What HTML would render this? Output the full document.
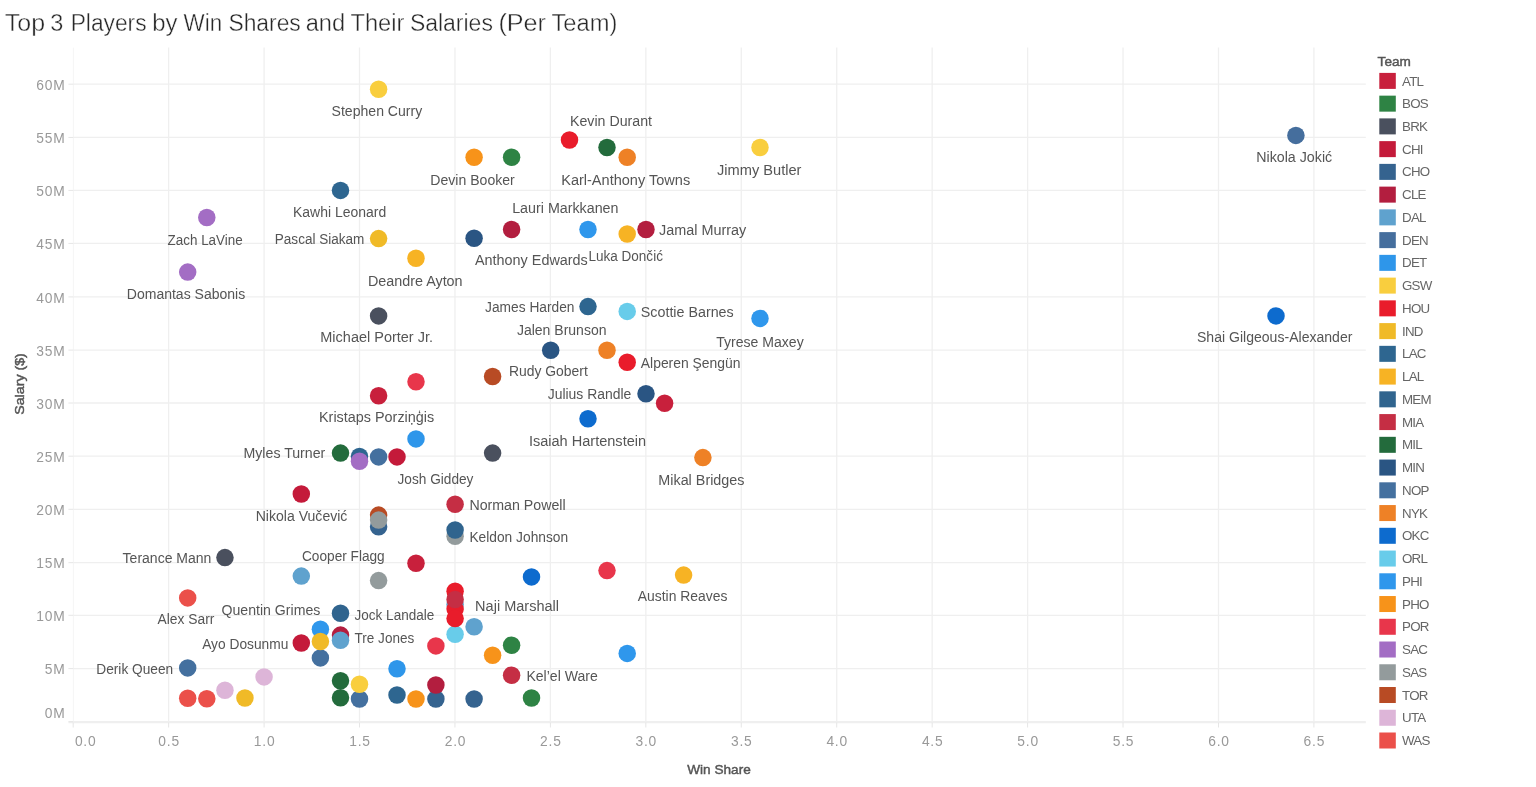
<!DOCTYPE html>
<html><head><meta charset="utf-8"><title>Top 3 Players by Win Shares and Their Salaries (Per Team)</title>
<style>
html,body{margin:0;padding:0;background:#fff;}
body{width:1536px;height:787px;overflow:hidden;position:relative;font-family:"Liberation Sans",sans-serif;}
svg{position:absolute;left:0;top:0;will-change:transform;}
text{font-family:"Liberation Sans",sans-serif;}
.ttl{font-size:23.3px;fill:#282828;stroke:#fff;stroke-width:0.38px;}
.ml{font-size:14.7px;fill:#555;}
.ax{font-size:13.8px;fill:#999;letter-spacing:0.8px;}
.axt{font-size:13.6px;fill:#555;stroke:#555;stroke-width:0.45px;}
.lg{font-size:13.33px;fill:#666;letter-spacing:-0.75px;}
.lgt{font-size:13.6px;fill:#555;stroke:#555;stroke-width:0.45px;}
</style></head><body>
<svg width="1536" height="787" viewBox="0 0 1536 787">
<text class="ttl" x="4.8" y="30.9" textLength="40.2" lengthAdjust="spacingAndGlyphs">Top</text>
<text class="ttl" x="50.2" y="30.9" textLength="13.1" lengthAdjust="spacingAndGlyphs">3</text>
<text class="ttl" x="70.7" y="30.9" textLength="75.9" lengthAdjust="spacingAndGlyphs">Players</text>
<text class="ttl" x="152.3" y="30.9" textLength="25.2" lengthAdjust="spacingAndGlyphs">by</text>
<text class="ttl" x="183.6" y="30.9" textLength="38.5" lengthAdjust="spacingAndGlyphs">Win</text>
<text class="ttl" x="228.4" y="30.9" textLength="72.4" lengthAdjust="spacingAndGlyphs">Shares</text>
<text class="ttl" x="305.7" y="30.9" textLength="39.4" lengthAdjust="spacingAndGlyphs">and</text>
<text class="ttl" x="350.5" y="30.9" textLength="53.9" lengthAdjust="spacingAndGlyphs">Their</text>
<text class="ttl" x="409.9" y="30.9" textLength="83.0" lengthAdjust="spacingAndGlyphs">Salaries</text>
<text class="ttl" x="498.4" y="30.9" textLength="47.6" lengthAdjust="spacingAndGlyphs">(Per</text>
<text class="ttl" x="551.5" y="30.9" textLength="65.8" lengthAdjust="spacingAndGlyphs">Team)</text>
<g stroke="#efefef" stroke-width="1.3" fill="none">
<line x1="73.4" x2="1365.8" y1="84.2" y2="84.2"/>
<line x1="73.4" x2="1365.8" y1="137.45" y2="137.45"/>
<line x1="73.4" x2="1365.8" y1="190.4" y2="190.4"/>
<line x1="73.4" x2="1365.8" y1="243.4" y2="243.4"/>
<line x1="73.4" x2="1365.8" y1="296.9" y2="296.9"/>
<line x1="73.4" x2="1365.8" y1="350.1" y2="350.1"/>
<line x1="73.4" x2="1365.8" y1="403.0" y2="403.0"/>
<line x1="73.4" x2="1365.8" y1="456.2" y2="456.2"/>
<line x1="73.4" x2="1365.8" y1="509.3" y2="509.3"/>
<line x1="73.4" x2="1365.8" y1="562.7" y2="562.7"/>
<line x1="73.4" x2="1365.8" y1="615.3" y2="615.3"/>
<line x1="73.4" x2="1365.8" y1="668.6" y2="668.6"/>
<line x1="73.4" x2="1365.8" y1="721.6" y2="721.6"/>
<line x1="168.64" x2="168.64" y1="47.6" y2="722.5"/>
<line x1="264.08" x2="264.08" y1="47.6" y2="722.5"/>
<line x1="359.52" x2="359.52" y1="47.6" y2="722.5"/>
<line x1="454.96" x2="454.96" y1="47.6" y2="722.5"/>
<line x1="550.40" x2="550.40" y1="47.6" y2="722.5"/>
<line x1="645.84" x2="645.84" y1="47.6" y2="722.5"/>
<line x1="741.28" x2="741.28" y1="47.6" y2="722.5"/>
<line x1="836.72" x2="836.72" y1="47.6" y2="722.5"/>
<line x1="932.16" x2="932.16" y1="47.6" y2="722.5"/>
<line x1="1027.60" x2="1027.60" y1="47.6" y2="722.5"/>
<line x1="1123.04" x2="1123.04" y1="47.6" y2="722.5"/>
<line x1="1218.48" x2="1218.48" y1="47.6" y2="722.5"/>
<line x1="1313.92" x2="1313.92" y1="47.6" y2="722.5"/>
</g>
<line x1="68.4" x2="1365.8" y1="722.7" y2="722.7" stroke="#efefef" stroke-width="1.2"/>
<line x1="73.4" x2="73.4" y1="47.6" y2="722.5" stroke="#f5f5f5" stroke-width="1"/>
<g stroke="#e6e6e6" stroke-width="1">
<line x1="68.4" x2="73.4" y1="84.2" y2="84.2"/>
<line x1="68.4" x2="73.4" y1="137.45" y2="137.45"/>
<line x1="68.4" x2="73.4" y1="190.4" y2="190.4"/>
<line x1="68.4" x2="73.4" y1="243.4" y2="243.4"/>
<line x1="68.4" x2="73.4" y1="296.9" y2="296.9"/>
<line x1="68.4" x2="73.4" y1="350.1" y2="350.1"/>
<line x1="68.4" x2="73.4" y1="403.0" y2="403.0"/>
<line x1="68.4" x2="73.4" y1="456.2" y2="456.2"/>
<line x1="68.4" x2="73.4" y1="509.3" y2="509.3"/>
<line x1="68.4" x2="73.4" y1="562.7" y2="562.7"/>
<line x1="68.4" x2="73.4" y1="615.3" y2="615.3"/>
<line x1="68.4" x2="73.4" y1="668.6" y2="668.6"/>
<line x1="68.4" x2="73.4" y1="721.6" y2="721.6"/>
<line x1="73.20" x2="73.20" y1="722.5" y2="727.5"/>
<line x1="168.64" x2="168.64" y1="722.5" y2="727.5"/>
<line x1="264.08" x2="264.08" y1="722.5" y2="727.5"/>
<line x1="359.52" x2="359.52" y1="722.5" y2="727.5"/>
<line x1="454.96" x2="454.96" y1="722.5" y2="727.5"/>
<line x1="550.40" x2="550.40" y1="722.5" y2="727.5"/>
<line x1="645.84" x2="645.84" y1="722.5" y2="727.5"/>
<line x1="741.28" x2="741.28" y1="722.5" y2="727.5"/>
<line x1="836.72" x2="836.72" y1="722.5" y2="727.5"/>
<line x1="932.16" x2="932.16" y1="722.5" y2="727.5"/>
<line x1="1027.60" x2="1027.60" y1="722.5" y2="727.5"/>
<line x1="1123.04" x2="1123.04" y1="722.5" y2="727.5"/>
<line x1="1218.48" x2="1218.48" y1="722.5" y2="727.5"/>
<line x1="1313.92" x2="1313.92" y1="722.5" y2="727.5"/>
</g>
<text class="ax" x="65.6" y="89.9" text-anchor="end">60M</text>
<text class="ax" x="65.6" y="143.1" text-anchor="end">55M</text>
<text class="ax" x="65.6" y="196.1" text-anchor="end">50M</text>
<text class="ax" x="65.6" y="249.1" text-anchor="end">45M</text>
<text class="ax" x="65.6" y="302.6" text-anchor="end">40M</text>
<text class="ax" x="65.6" y="355.8" text-anchor="end">35M</text>
<text class="ax" x="65.6" y="408.7" text-anchor="end">30M</text>
<text class="ax" x="65.6" y="461.9" text-anchor="end">25M</text>
<text class="ax" x="65.6" y="515.0" text-anchor="end">20M</text>
<text class="ax" x="65.6" y="568.4" text-anchor="end">15M</text>
<text class="ax" x="65.6" y="621.0" text-anchor="end">10M</text>
<text class="ax" x="65.6" y="674.3" text-anchor="end">5M</text>
<text class="ax" x="65.6" y="718.0" text-anchor="end">0M</text>
<text class="ax" x="85.7" y="745.8" text-anchor="middle">0.0</text>
<text class="ax" x="169.1" y="745.8" text-anchor="middle">0.5</text>
<text class="ax" x="264.6" y="745.8" text-anchor="middle">1.0</text>
<text class="ax" x="360.0" y="745.8" text-anchor="middle">1.5</text>
<text class="ax" x="455.5" y="745.8" text-anchor="middle">2.0</text>
<text class="ax" x="550.9" y="745.8" text-anchor="middle">2.5</text>
<text class="ax" x="646.3" y="745.8" text-anchor="middle">3.0</text>
<text class="ax" x="741.8" y="745.8" text-anchor="middle">3.5</text>
<text class="ax" x="837.2" y="745.8" text-anchor="middle">4.0</text>
<text class="ax" x="932.7" y="745.8" text-anchor="middle">4.5</text>
<text class="ax" x="1028.1" y="745.8" text-anchor="middle">5.0</text>
<text class="ax" x="1123.5" y="745.8" text-anchor="middle">5.5</text>
<text class="ax" x="1219.0" y="745.8" text-anchor="middle">6.0</text>
<text class="ax" x="1314.4" y="745.8" text-anchor="middle">6.5</text>
<text class="axt" x="719" y="773.8" text-anchor="middle">Win Share</text>
<text class="axt" transform="translate(23.5,384) rotate(-90)" text-anchor="middle" textLength="61.5" lengthAdjust="spacingAndGlyphs">Salary ($)</text>
<g>
<circle cx="378.60" cy="89.3" r="8.75" fill="#F9CE3E"/>
<circle cx="474.10" cy="157.25" r="8.75" fill="#F7931A"/>
<circle cx="511.60" cy="157.25" r="8.75" fill="#2E8344"/>
<circle cx="569.50" cy="140.0" r="8.75" fill="#E91C2B"/>
<circle cx="607.00" cy="147.5" r="8.75" fill="#236B3C"/>
<circle cx="627.20" cy="157.25" r="8.75" fill="#EE8126"/>
<circle cx="760.00" cy="147.5" r="8.75" fill="#F9CE3E"/>
<circle cx="1295.90" cy="135.4" r="8.75" fill="#456E9D"/>
<circle cx="340.50" cy="190.4" r="8.75" fill="#2E6690"/>
<circle cx="206.80" cy="217.5" r="8.75" fill="#A36DC4"/>
<circle cx="187.70" cy="272.1" r="8.75" fill="#A36DC4"/>
<circle cx="378.60" cy="238.6" r="8.75" fill="#F0BA27"/>
<circle cx="416.00" cy="258.3" r="8.75" fill="#F7B324"/>
<circle cx="474.10" cy="238.3" r="8.75" fill="#2A5583"/>
<circle cx="511.60" cy="229.5" r="8.75" fill="#B31E3F"/>
<circle cx="588.00" cy="229.5" r="8.75" fill="#2F97EC"/>
<circle cx="627.20" cy="234.0" r="8.75" fill="#F7B324"/>
<circle cx="646.00" cy="229.5" r="8.75" fill="#B31E3F"/>
<circle cx="378.60" cy="315.9" r="8.75" fill="#4A505E"/>
<circle cx="588.00" cy="306.6" r="8.75" fill="#2E6690"/>
<circle cx="627.20" cy="311.4" r="8.75" fill="#68CCEA"/>
<circle cx="760.00" cy="318.4" r="8.75" fill="#2F97EC"/>
<circle cx="1276.00" cy="315.9" r="8.75" fill="#0D6BCE"/>
<circle cx="550.70" cy="350.2" r="8.75" fill="#2A5583"/>
<circle cx="607.00" cy="350.2" r="8.75" fill="#EE8126"/>
<circle cx="627.20" cy="362.2" r="8.75" fill="#E91C2B"/>
<circle cx="492.60" cy="376.5" r="8.75" fill="#B84B24"/>
<circle cx="416.00" cy="381.7" r="8.75" fill="#E8364B"/>
<circle cx="378.60" cy="395.8" r="8.75" fill="#C8203C"/>
<circle cx="646.00" cy="393.8" r="8.75" fill="#2A5583"/>
<circle cx="664.60" cy="403.3" r="8.75" fill="#C8203C"/>
<circle cx="588.00" cy="418.8" r="8.75" fill="#0D6BCE"/>
<circle cx="416.00" cy="438.9" r="8.75" fill="#2E96EA"/>
<circle cx="340.50" cy="453.1" r="8.75" fill="#236B3C"/>
<circle cx="359.50" cy="456.4" r="8.75" fill="#2E6690"/>
<circle cx="359.50" cy="461.2" r="8.75" fill="#A36DC4"/>
<circle cx="378.60" cy="456.9" r="8.75" fill="#44709F"/>
<circle cx="397.00" cy="456.9" r="8.75" fill="#C41A3A"/>
<circle cx="492.60" cy="453.1" r="8.75" fill="#4A505E"/>
<circle cx="702.90" cy="457.6" r="8.75" fill="#EE8126"/>
<circle cx="301.30" cy="494.0" r="8.75" fill="#C41A3A"/>
<circle cx="455.10" cy="504.3" r="8.75" fill="#C52E44"/>
<circle cx="378.60" cy="526.7" r="8.75" fill="#35638F"/>
<circle cx="378.60" cy="515.1" r="8.75" fill="#B84B24"/>
<circle cx="378.60" cy="520.1" r="8.75" fill="#939B9C"/>
<circle cx="455.10" cy="536.3" r="8.75" fill="#939B9C"/>
<circle cx="455.10" cy="530.0" r="8.75" fill="#30648E"/>
<circle cx="224.95" cy="557.6" r="8.75" fill="#4A505E"/>
<circle cx="416.00" cy="563.3" r="8.75" fill="#C8203C"/>
<circle cx="301.30" cy="576.1" r="8.75" fill="#5FA2CE"/>
<circle cx="378.60" cy="580.6" r="8.75" fill="#939B9C"/>
<circle cx="531.50" cy="576.9" r="8.75" fill="#0D6BCE"/>
<circle cx="607.00" cy="570.6" r="8.75" fill="#E8364B"/>
<circle cx="683.60" cy="575.1" r="8.75" fill="#F7B324"/>
<circle cx="187.70" cy="597.9" r="8.75" fill="#EB504A"/>
<circle cx="455.10" cy="634.3" r="8.75" fill="#68CCEA"/>
<circle cx="455.10" cy="604.5" r="8.75" fill="#5FA2CE"/>
<circle cx="455.10" cy="591.3" r="8.75" fill="#E91C2B"/>
<circle cx="455.10" cy="609.1" r="8.75" fill="#E91C2B"/>
<circle cx="455.10" cy="618.6" r="8.75" fill="#E91C2B"/>
<circle cx="455.10" cy="599.5" r="8.75" fill="#C52E44"/>
<circle cx="340.50" cy="613.2" r="8.75" fill="#30648E"/>
<circle cx="320.40" cy="629.3" r="8.75" fill="#2F97EC"/>
<circle cx="340.50" cy="635.1" r="8.75" fill="#B31E3F"/>
<circle cx="340.50" cy="640.3" r="8.75" fill="#5FA2CE"/>
<circle cx="301.30" cy="643.0" r="8.75" fill="#C41A3A"/>
<circle cx="320.40" cy="657.9" r="8.75" fill="#44709F"/>
<circle cx="320.40" cy="641.5" r="8.75" fill="#F0BA27"/>
<circle cx="187.70" cy="667.9" r="8.75" fill="#44709F"/>
<circle cx="435.90" cy="645.9" r="8.75" fill="#E8364B"/>
<circle cx="474.10" cy="626.8" r="8.75" fill="#5FA2CE"/>
<circle cx="511.60" cy="645.2" r="8.75" fill="#2E8344"/>
<circle cx="492.60" cy="655.2" r="8.75" fill="#F7931A"/>
<circle cx="627.20" cy="653.4" r="8.75" fill="#2F97EC"/>
<circle cx="511.60" cy="675.2" r="8.75" fill="#C52E44"/>
<circle cx="397.00" cy="668.7" r="8.75" fill="#2E96EA"/>
<circle cx="264.05" cy="676.9" r="8.75" fill="#DDB5D8"/>
<circle cx="224.95" cy="690.3" r="8.75" fill="#DDB5D8"/>
<circle cx="187.70" cy="698.25" r="8.75" fill="#EB504A"/>
<circle cx="206.80" cy="698.75" r="8.75" fill="#EB504A"/>
<circle cx="244.95" cy="698.0" r="8.75" fill="#F0BA27"/>
<circle cx="340.50" cy="697.75" r="8.75" fill="#236B3C"/>
<circle cx="340.50" cy="680.75" r="8.75" fill="#236B3C"/>
<circle cx="359.50" cy="699.0" r="8.75" fill="#44709F"/>
<circle cx="359.50" cy="684.25" r="8.75" fill="#F9CE3E"/>
<circle cx="397.00" cy="695.0" r="8.75" fill="#2E6690"/>
<circle cx="416.00" cy="699.0" r="8.75" fill="#F7931A"/>
<circle cx="435.90" cy="699.0" r="8.75" fill="#35638F"/>
<circle cx="435.90" cy="685.0" r="8.75" fill="#B31E3F"/>
<circle cx="474.10" cy="699.0" r="8.75" fill="#35638F"/>
<circle cx="531.50" cy="698.0" r="8.75" fill="#2E8344"/>
</g>
<g class="ml">
<text x="331.6" y="115.6" text-anchor="start" textLength="90.6" lengthAdjust="spacingAndGlyphs">Stephen Curry</text>
<text x="570.0" y="125.8" text-anchor="start" textLength="82.0" lengthAdjust="spacingAndGlyphs">Kevin Durant</text>
<text x="430.3" y="185.1" text-anchor="start" textLength="84.5" lengthAdjust="spacingAndGlyphs">Devin Booker</text>
<text x="561.2" y="185.1" text-anchor="start" textLength="129.0" lengthAdjust="spacingAndGlyphs">Karl-Anthony Towns</text>
<text x="717.0" y="174.8" text-anchor="start" textLength="84.5" lengthAdjust="spacingAndGlyphs">Jimmy Butler</text>
<text x="1256.2" y="161.9" text-anchor="start" textLength="76.0" lengthAdjust="spacingAndGlyphs">Nikola Jokić</text>
<text x="293.0" y="217.2" text-anchor="start" textLength="93.2" lengthAdjust="spacingAndGlyphs">Kawhi Leonard</text>
<text x="167.6" y="244.6" text-anchor="start" textLength="75.1" lengthAdjust="spacingAndGlyphs">Zach LaVine</text>
<text x="274.8" y="243.6" text-anchor="start" textLength="89.6" lengthAdjust="spacingAndGlyphs">Pascal Siakam</text>
<text x="512.2" y="212.8" text-anchor="start" textLength="106.3" lengthAdjust="spacingAndGlyphs">Lauri Markkanen</text>
<text x="659.0" y="234.8" text-anchor="start" textLength="87.2" lengthAdjust="spacingAndGlyphs">Jamal Murray</text>
<text x="475.0" y="265.4" text-anchor="start" textLength="112.8" lengthAdjust="spacingAndGlyphs">Anthony Edwards</text>
<text x="588.5" y="261.1" text-anchor="start" textLength="74.4" lengthAdjust="spacingAndGlyphs">Luka Dončić</text>
<text x="367.9" y="285.9" text-anchor="start" textLength="94.7" lengthAdjust="spacingAndGlyphs">Deandre Ayton</text>
<text x="126.8" y="299.2" text-anchor="start" textLength="118.4" lengthAdjust="spacingAndGlyphs">Domantas Sabonis</text>
<text x="485.1" y="311.7" text-anchor="start" textLength="89.4" lengthAdjust="spacingAndGlyphs">James Harden</text>
<text x="640.8" y="316.5" text-anchor="start" textLength="92.9" lengthAdjust="spacingAndGlyphs">Scottie Barnes</text>
<text x="320.3" y="342.0" text-anchor="start" textLength="112.7" lengthAdjust="spacingAndGlyphs">Michael Porter Jr.</text>
<text x="516.9" y="335.0" text-anchor="start" textLength="89.6" lengthAdjust="spacingAndGlyphs">Jalen Brunson</text>
<text x="716.2" y="347.0" text-anchor="start" textLength="87.5" lengthAdjust="spacingAndGlyphs">Tyrese Maxey</text>
<text x="1197.0" y="342.1" text-anchor="start" textLength="155.4" lengthAdjust="spacingAndGlyphs">Shai Gilgeous-Alexander</text>
<text x="640.8" y="367.5" text-anchor="start" textLength="99.7" lengthAdjust="spacingAndGlyphs">Alperen Şengün</text>
<text x="508.9" y="376.3" text-anchor="start" textLength="78.9" lengthAdjust="spacingAndGlyphs">Rudy Gobert</text>
<text x="547.7" y="399.1" text-anchor="start" textLength="83.6" lengthAdjust="spacingAndGlyphs">Julius Randle</text>
<text x="319.0" y="421.8" text-anchor="start" textLength="115.2" lengthAdjust="spacingAndGlyphs">Kristaps Porziņģis</text>
<text x="528.9" y="446.2" text-anchor="start" textLength="117.2" lengthAdjust="spacingAndGlyphs">Isaiah Hartenstein</text>
<text x="243.5" y="457.8" text-anchor="start" textLength="81.8" lengthAdjust="spacingAndGlyphs">Myles Turner</text>
<text x="397.5" y="483.7" text-anchor="start" textLength="75.9" lengthAdjust="spacingAndGlyphs">Josh Giddey</text>
<text x="658.3" y="484.5" text-anchor="start" textLength="86.2" lengthAdjust="spacingAndGlyphs">Mikal Bridges</text>
<text x="469.4" y="510.0" text-anchor="start" textLength="96.3" lengthAdjust="spacingAndGlyphs">Norman Powell</text>
<text x="255.7" y="521.0" text-anchor="start" textLength="91.7" lengthAdjust="spacingAndGlyphs">Nikola Vučević</text>
<text x="469.4" y="541.8" text-anchor="start" textLength="98.8" lengthAdjust="spacingAndGlyphs">Keldon Johnson</text>
<text x="122.6" y="562.9" text-anchor="start" textLength="88.8" lengthAdjust="spacingAndGlyphs">Terance Mann</text>
<text x="302.0" y="560.6" text-anchor="start" textLength="82.7" lengthAdjust="spacingAndGlyphs">Cooper Flagg</text>
<text x="637.8" y="601.2" text-anchor="start" textLength="89.6" lengthAdjust="spacingAndGlyphs">Austin Reaves</text>
<text x="157.6" y="624.2" text-anchor="start" textLength="56.8" lengthAdjust="spacingAndGlyphs">Alex Sarr</text>
<text x="221.5" y="614.7" text-anchor="start" textLength="98.8" lengthAdjust="spacingAndGlyphs">Quentin Grimes</text>
<text x="354.6" y="619.7" text-anchor="start" textLength="79.6" lengthAdjust="spacingAndGlyphs">Jock Landale</text>
<text x="475.1" y="611.2" text-anchor="start" textLength="83.9" lengthAdjust="spacingAndGlyphs">Naji Marshall</text>
<text x="354.6" y="643.0" text-anchor="start" textLength="59.6" lengthAdjust="spacingAndGlyphs">Tre Jones</text>
<text x="202.2" y="648.8" text-anchor="start" textLength="86.1" lengthAdjust="spacingAndGlyphs">Ayo Dosunmu</text>
<text x="96.3" y="673.8" text-anchor="start" textLength="76.8" lengthAdjust="spacingAndGlyphs">Derik Queen</text>
<text x="526.4" y="680.5" text-anchor="start" textLength="71.4" lengthAdjust="spacingAndGlyphs">Kel’el Ware</text>
</g>
<text class="lgt" x="1377.6" y="66.2">Team</text>
<rect x="1379.3" y="72.90" width="16.5" height="16" fill="#C8203C"/><text class="lg" x="1402.0" y="85.50">ATL</text>
<rect x="1379.3" y="95.65" width="16.5" height="16" fill="#2E8344"/><text class="lg" x="1402.0" y="108.25">BOS</text>
<rect x="1379.3" y="118.39" width="16.5" height="16" fill="#4A505E"/><text class="lg" x="1402.0" y="130.99">BRK</text>
<rect x="1379.3" y="141.13" width="16.5" height="16" fill="#C41A3A"/><text class="lg" x="1402.0" y="153.73">CHI</text>
<rect x="1379.3" y="163.88" width="16.5" height="16" fill="#35638F"/><text class="lg" x="1402.0" y="176.48">CHO</text>
<rect x="1379.3" y="186.62" width="16.5" height="16" fill="#B31E3F"/><text class="lg" x="1402.0" y="199.22">CLE</text>
<rect x="1379.3" y="209.37" width="16.5" height="16" fill="#5FA2CE"/><text class="lg" x="1402.0" y="221.97">DAL</text>
<rect x="1379.3" y="232.12" width="16.5" height="16" fill="#456E9D"/><text class="lg" x="1402.0" y="244.72">DEN</text>
<rect x="1379.3" y="254.86" width="16.5" height="16" fill="#2E96EA"/><text class="lg" x="1402.0" y="267.46">DET</text>
<rect x="1379.3" y="277.61" width="16.5" height="16" fill="#F9CE3E"/><text class="lg" x="1402.0" y="290.21">GSW</text>
<rect x="1379.3" y="300.35" width="16.5" height="16" fill="#E91C2B"/><text class="lg" x="1402.0" y="312.95">HOU</text>
<rect x="1379.3" y="323.10" width="16.5" height="16" fill="#F0BA27"/><text class="lg" x="1402.0" y="335.70">IND</text>
<rect x="1379.3" y="345.84" width="16.5" height="16" fill="#2E6690"/><text class="lg" x="1402.0" y="358.44">LAC</text>
<rect x="1379.3" y="368.59" width="16.5" height="16" fill="#F7B324"/><text class="lg" x="1402.0" y="381.19">LAL</text>
<rect x="1379.3" y="391.33" width="16.5" height="16" fill="#30648E"/><text class="lg" x="1402.0" y="403.93">MEM</text>
<rect x="1379.3" y="414.08" width="16.5" height="16" fill="#C52E44"/><text class="lg" x="1402.0" y="426.68">MIA</text>
<rect x="1379.3" y="436.82" width="16.5" height="16" fill="#236B3C"/><text class="lg" x="1402.0" y="449.42">MIL</text>
<rect x="1379.3" y="459.57" width="16.5" height="16" fill="#2A5583"/><text class="lg" x="1402.0" y="472.17">MIN</text>
<rect x="1379.3" y="482.31" width="16.5" height="16" fill="#44709F"/><text class="lg" x="1402.0" y="494.91">NOP</text>
<rect x="1379.3" y="505.06" width="16.5" height="16" fill="#EE8126"/><text class="lg" x="1402.0" y="517.66">NYK</text>
<rect x="1379.3" y="527.80" width="16.5" height="16" fill="#0D6BCE"/><text class="lg" x="1402.0" y="540.40">OKC</text>
<rect x="1379.3" y="550.55" width="16.5" height="16" fill="#68CCEA"/><text class="lg" x="1402.0" y="563.15">ORL</text>
<rect x="1379.3" y="573.29" width="16.5" height="16" fill="#2F97EC"/><text class="lg" x="1402.0" y="585.89">PHI</text>
<rect x="1379.3" y="596.03" width="16.5" height="16" fill="#F7931A"/><text class="lg" x="1402.0" y="608.63">PHO</text>
<rect x="1379.3" y="618.78" width="16.5" height="16" fill="#E8364B"/><text class="lg" x="1402.0" y="631.38">POR</text>
<rect x="1379.3" y="641.52" width="16.5" height="16" fill="#A36DC4"/><text class="lg" x="1402.0" y="654.12">SAC</text>
<rect x="1379.3" y="664.27" width="16.5" height="16" fill="#939B9C"/><text class="lg" x="1402.0" y="676.87">SAS</text>
<rect x="1379.3" y="687.01" width="16.5" height="16" fill="#B84B24"/><text class="lg" x="1402.0" y="699.62">TOR</text>
<rect x="1379.3" y="709.76" width="16.5" height="16" fill="#DDB5D8"/><text class="lg" x="1402.0" y="722.36">UTA</text>
<rect x="1379.3" y="732.50" width="16.5" height="16" fill="#EB504A"/><text class="lg" x="1402.0" y="745.11">WAS</text>
</svg></body></html>
